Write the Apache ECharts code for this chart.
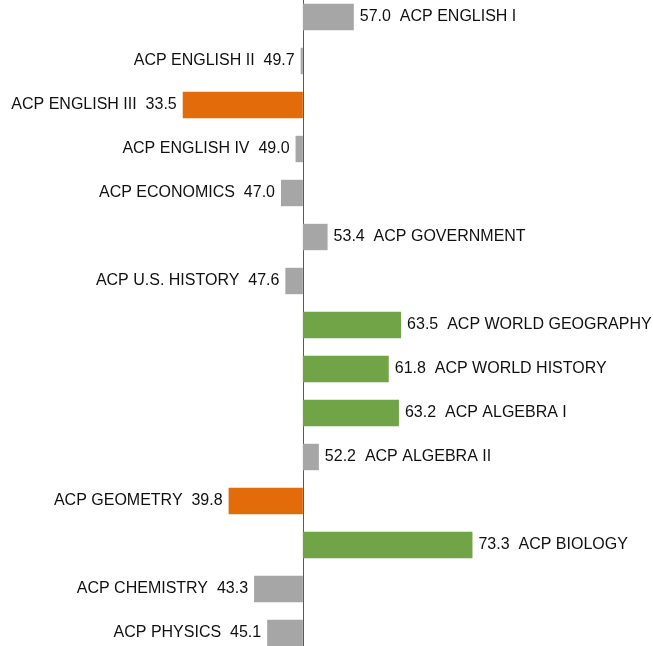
<!DOCTYPE html>
<html><head><meta charset="utf-8">
<script src="https://cdn.jsdelivr.net/npm/echarts@6/dist/echarts.min.js"></script>
<style>html,body{margin:0;padding:0;background:#fff;overflow:hidden}#c{width:653px;height:660px;margin-top:-5px}</style>
</head><body><div id="c"></div>
<script>
const categories = ["ACP ENGLISH I","ACP ENGLISH II","ACP ENGLISH III","ACP ENGLISH IV","ACP ECONOMICS","ACP GOVERNMENT","ACP U.S. HISTORY","ACP WORLD GEOGRAPHY","ACP WORLD HISTORY","ACP ALGEBRA I","ACP ALGEBRA II","ACP GEOMETRY","ACP BIOLOGY","ACP CHEMISTRY","ACP PHYSICS"];
const scores = [57.0,49.7,33.5,49.0,47.0,53.4,47.6,63.5,61.8,63.2,52.2,39.8,73.3,43.3,45.1];
const baseline = 50;

const chart = echarts.init(document.getElementById('c'), null, {renderer:'canvas'});
function colorFor(v){ if (v < 40) return '#E36C0A'; if (v > 60) return '#70A447'; return '#A6A6A6'; }
const data = scores.map((v,i)=>({
  value: +(v - baseline).toFixed(1),
  itemStyle:{color: colorFor(v)},
  label:{
    position: v >= baseline ? 'right' : 'left',
    formatter: v >= baseline ? (v.toFixed(1) + '  ' + categories[i]) : (categories[i] + '  ' + v.toFixed(1))
  }
}));
chart.setOption({
  animation:false,
  grid:{left:0, right:0, top:0, bottom:0, containLabel:false},
  xAxis:{type:'value', min:-41.6, max:48.1, show:false},
  yAxis:{type:'category', data:categories, inverse:true,
    axisLine:{show:true, onZero:true, lineStyle:{color:'#595959', width:1}},
    axisTick:{show:false}, axisLabel:{show:false}, splitLine:{show:false}},
  series:[{type:'bar', data:data, barWidth:'60%',
    label:{show:true, distance:6, color:'#111', fontSize:16, fontFamily:'Liberation Sans'}}]
});
</script></body></html>
